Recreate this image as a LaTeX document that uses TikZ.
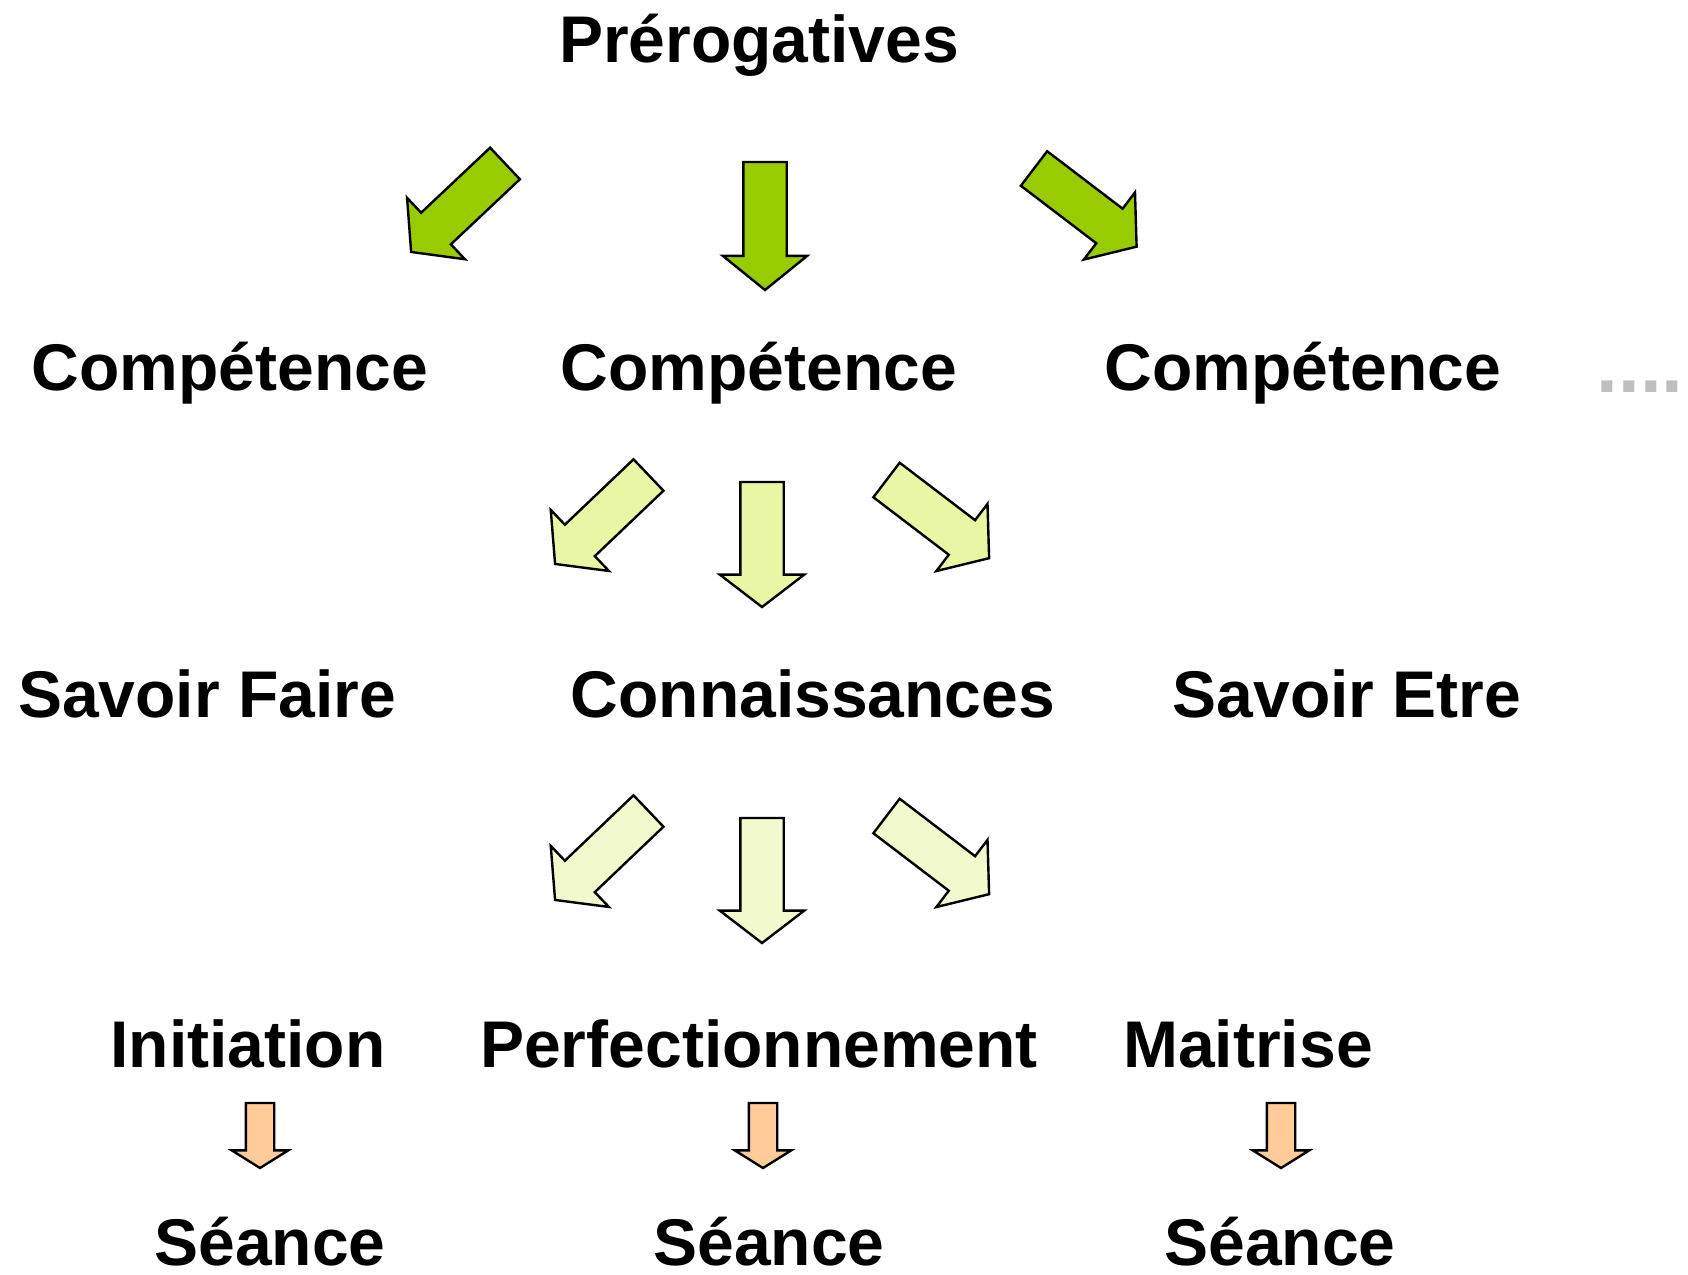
\documentclass[tikz,border=0pt]{standalone}
\usepackage{fontspec}
\setmainfont{Liberation Sans}
\usetikzlibrary{shapes.arrows}
\definecolor{grn}{HTML}{99CC00}
\definecolor{pale}{HTML}{E9F7A5}
\definecolor{paler}{HTML}{F1F9CD}
\definecolor{peach}{HTML}{FFCC99}

\begin{document}
\begin{tikzpicture}[x=1pt,y=-1pt,
    lbl/.style={font=\fontsize{66}{70}\selectfont\bfseries,anchor=base,inner sep=0pt},
    blk/.style={single arrow,draw=black,line width=2.4pt,inner sep=0pt,outer sep=0pt,anchor=tail,
      text height=41pt,text depth=0pt,minimum width=82pt,single arrow head extend=20.5pt,
      single arrow tip angle=102,minimum height=129pt},
    sml/.style={blk,fill=peach,text height=26pt,minimum width=54pt,single arrow head extend=14pt,
      single arrow tip angle=116,minimum height=65pt}]
  \useasboundingbox (0,0) rectangle (1688,1274);
  % labels
  \node[lbl] (prer) at (759,62) {Prérogatives};
  \node[lbl] (comp1) at (230,390) {Compétence};
  \node[lbl] (comp2) at (759,390) {Compétence};
  \node[lbl] (comp3) at (1303,390) {Compétence};
  \node[lbl,font=\fontsize{78}{80}\selectfont\bfseries,text=black!25] (dots) at (1640,392) {....};
  \node[lbl] (sfaire) at (207,717) {Savoir Faire};
  \node[lbl] (conn) at (813,717) {Connaissances};
  \node[lbl] (setre) at (1347,717) {Savoir Etre};
  \node[lbl] (init) at (248,1067) {Initiation};
  \node[lbl] (perf) at (759,1067) {Perfectionnement};
  \node[lbl] (mait) at (1248,1067) {Maitrise};
  \node[lbl] (sea1) at (270,1265) {Séance};
  \node[lbl] (sea2) at (769,1265) {Séance};
  \node[lbl] (sea3) at (1280,1265) {Séance};
  % arrows
  \node[blk,fill=grn,rotate=223.3] (g1) at (505,163.5) {};
  \node[blk,fill=grn,rotate=-90,minimum height=128pt] (g2) at (765,162) {};
  \node[blk,fill=grn,rotate=-37.3] (g3) at (1034,168.5) {};
  \node[blk,fill=pale,rotate=223.6] (k1) at (648.5,475) {};
  \node[blk,fill=pale,rotate=-90,minimum height=125pt,single arrow tip angle=105] (k2) at (762,482) {};
  \node[blk,fill=pale,rotate=-37.3] (k3) at (886.5,480) {};
  \node[blk,fill=paler,rotate=223.6] (n1) at (648.5,811) {};
  \node[blk,fill=paler,rotate=-90,minimum height=125pt,single arrow tip angle=105] (n2) at (762,818) {};
  \node[blk,fill=paler,rotate=-37.3] (n3) at (886.5,816) {};
  \node[sml,rotate=-90] (o1) at (260,1103) {};
  \node[sml,rotate=-90] (o2) at (763,1103) {};
  \node[sml,rotate=-90] (o3) at (1281,1103) {};
\end{tikzpicture}
\end{document}
